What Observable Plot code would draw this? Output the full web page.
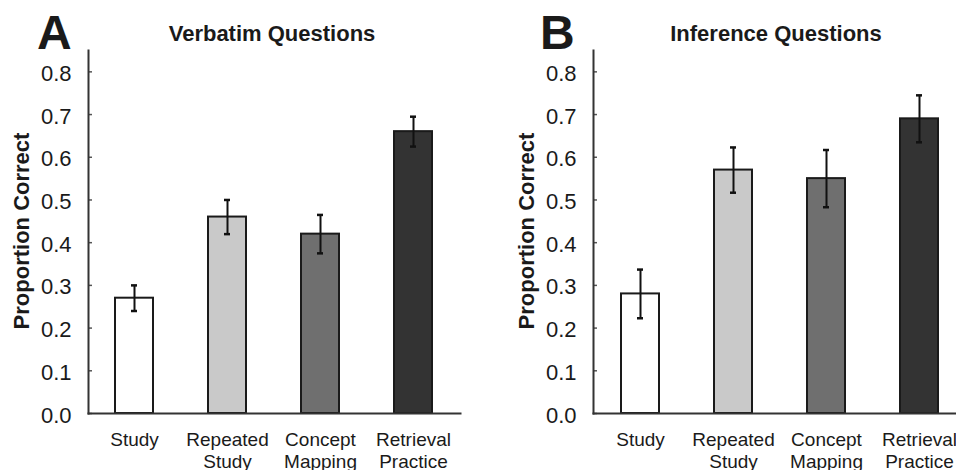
<!DOCTYPE html>
<html>
<head>
<meta charset="utf-8">
<script src="https://cdn.jsdelivr.net/npm/d3@7"></script>
<script src="https://cdn.jsdelivr.net/npm/@observablehq/plot@0.6"></script>
<style>
  html, body { margin: 0; padding: 0; background: #fff; overflow: hidden; }
  #wrap { position: relative; width: 956px; height: 470px; overflow: hidden; font-family: "Liberation Sans", Arial, Helvetica, sans-serif; color: #1a1a1a; }
  .plot { position: absolute; top: 0; }
  .ov { position: absolute; line-height: 1; white-space: nowrap; font-weight: bold; }
  .letter { font-size: 48px; }
  .title { font-size: 22px; transform: translateX(-50%); }
  .ylab { font-size: 22px; transform: translate(-50%, -50%) rotate(-90deg); }
</style>
</head>
<body>
<div id="wrap"></div>
<script>
// ---- data ----
const conditions = ["Study", "Repeated Study", "Concept Mapping", "Retrieval Practice"];
const conditionLabels = ["Study", "Repeated\nStudy", "Concept\nMapping", "Retrieval\nPractice"];
const barFills = ["#ffffff", "#c9c9c9", "#6f6f6f", "#333333"];
const verbatimMean = [0.27, 0.46, 0.42, 0.66];
const verbatimErr = [0.03, 0.04, 0.045, 0.035];
const inferenceMean = [0.28, 0.57, 0.55, 0.69];
const inferenceErr = [0.057, 0.053, 0.067, 0.055];
const yTicks = [0, 0.1, 0.2, 0.3, 0.4, 0.5, 0.6, 0.7, 0.8];
const panels = [
  {letter: "A", title: "Verbatim Questions", mean: verbatimMean, err: verbatimErr},
  {letter: "B", title: "Inference Questions", mean: inferenceMean, err: inferenceErr}
];

const FONT = '"Liberation Sans", Arial, Helvetica, sans-serif';
const wrap = document.getElementById("wrap");

function makePanel(p, opts) {
  const rows = conditions.map((c, i) => ({cond: c, mean: p.mean[i], lo: p.mean[i] - p.err[i], hi: p.mean[i] + p.err[i]}));
  const frameW = opts.width - opts.marginLeft - opts.marginRight;
  const chart = Plot.plot({
    width: opts.width,
    height: 470,
    marginLeft: opts.marginLeft,
    marginRight: opts.marginRight,
    marginTop: 50,
    marginBottom: 57,
    style: {fontFamily: FONT, background: "transparent", color: "#1a1a1a"},
    x: {domain: conditions, paddingInner: 0.59, paddingOuter: 0.295, axis: null, label: null},
    y: {domain: [0, 0.85], axis: null, label: null},
    color: {domain: conditions, range: barFills},
    marks: [
      Plot.barY(rows, {x: "cond", y: "mean", fill: "cond", stroke: "#1a1a1a", strokeWidth: 2}),
      Plot.ruleX(rows, {x: "cond", y1: "lo", y2: "hi", stroke: "#111", strokeWidth: 2}),
      Plot.tickY(rows, {x: "cond", y: "hi", stroke: "#111", strokeWidth: 2.5, insetLeft: 16, insetRight: 16}),
      Plot.tickY(rows, {x: "cond", y: "lo", stroke: "#111", strokeWidth: 2.5, insetLeft: 16, insetRight: 16}),
      Plot.tickY(yTicks, {y: d => d, stroke: "#555", strokeWidth: 1.5, insetRight: frameW - 4}),
      Plot.axisY(yTicks, {tickSize: 0, tickPadding: 17, tickFormat: d3.format(".1f"), fontSize: 22, dy: 2, fill: "#1a1a1a", label: null}),
      Plot.axisX(conditions, {tickSize: 0, tickPadding: 16, tickFormat: d => conditionLabels[conditions.indexOf(d)], fontSize: 19, lineHeight: 1.2, fill: "#1a1a1a", label: null}),
      Plot.frame({anchor: "left", stroke: "#333", strokeWidth: 2}),
      Plot.frame({anchor: "bottom", stroke: "#333", strokeWidth: 2})
    ]
  });
  chart.classList.add("plot");
  chart.style.left = opts.left + "px";
  wrap.appendChild(chart);

  const L = document.createElement("div");
  L.className = "ov letter"; L.textContent = p.letter;
  L.style.left = opts.letterX + "px"; L.style.top = "9px";
  wrap.appendChild(L);

  const T = document.createElement("div");
  T.className = "ov title"; T.textContent = p.title;
  T.style.left = opts.titleX + "px"; T.style.top = "23px";
  wrap.appendChild(T);

  const Y = document.createElement("div");
  Y.className = "ov ylab"; Y.textContent = "Proportion Correct";
  Y.style.left = opts.ylabX + "px"; Y.style.top = "231px";
  wrap.appendChild(Y);
}

makePanel(panels[0], {left: 0, width: 480, marginLeft: 88, marginRight: 20, letterX: 37, titleX: 272, ylabX: 22});
makePanel(panels[1], {left: 480, width: 500, marginLeft: 113, marginRight: 13, letterX: 540, titleX: 776, ylabX: 527});
</script>
</body>
</html>
